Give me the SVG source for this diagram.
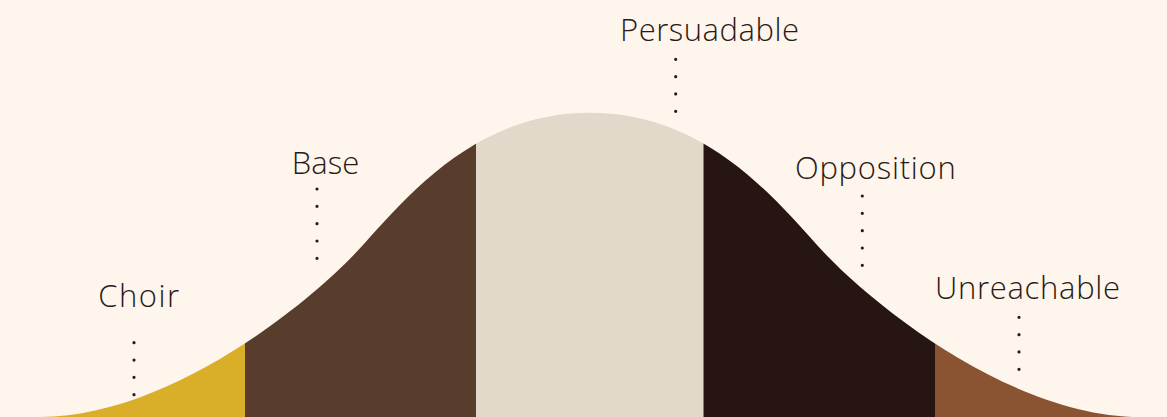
<svg xmlns="http://www.w3.org/2000/svg" width="1167" height="417" viewBox="0 0 1167 417">
  <style>
    .lbl { font-family: "Open Sans", "Liberation Sans", Arial, sans-serif; font-weight: 300; font-size: 31px; fill: #2A1A17; }
    .dots { stroke: #2A1A17; stroke-width: 3.2; stroke-linecap: round; stroke-dasharray: 0 17.33; fill: none; }
  </style>
  <defs>
    <clipPath id="bell">
      <path d="M 0 417 L 40 417 C 170 417, 313 301, 363 245 C 413 189, 480 112.7, 590 112.7 C 700 112.7, 767 189, 817 245 C 867 301, 1010 417, 1140 417 L 1167 417 L 1167 420 L 0 420 Z"/>
    </clipPath>
  </defs>
  <rect x="0" y="0" width="1167" height="417" fill="#FEF5EC"/>
  <g clip-path="url(#bell)">
    <g id="choir-seg"><rect x="0" y="100" width="245" height="320" fill="#D9AF29"/></g>
    <g id="base-seg"><rect x="245" y="100" width="231" height="320" fill="#593D2C"/></g>
    <g id="persuadable-seg"><rect x="476" y="100" width="227.5" height="320" fill="#E1D9C9"/></g>
    <g id="opposition-seg"><rect x="703.5" y="100" width="231.5" height="320" fill="#261513"/></g>
    <g id="unreachable-seg"><rect x="935" y="100" width="232" height="320" fill="#8A5332"/></g>
  </g>
  <g id="connectors">
    <line class="dots" x1="134" y1="342.7" x2="134" y2="394.7"/>
    <line class="dots" x1="317" y1="189" x2="317" y2="258.4"/>
    <line class="dots" x1="675.7" y1="59.3" x2="675.7" y2="111.3"/>
    <line class="dots" x1="862.3" y1="196" x2="862.3" y2="265.4"/>
    <line class="dots" x1="1019" y1="317.3" x2="1019" y2="369.3"/>
  </g>
  <g id="choir"><text class="lbl" x="98.3" y="307.3" textLength="80.7">Choir</text></g>
  <g id="base"><text class="lbl" x="291.7" y="174.3" textLength="67.6">Base</text></g>
  <g id="persuadable"><text class="lbl" x="620" y="40.7" textLength="179">Persuadable</text></g>
  <g id="opposition"><text class="lbl" x="795" y="179.3" textLength="160.7">Opposition</text></g>
  <g id="unreachable"><text class="lbl" x="935" y="299.3" textLength="185">Unreachable</text></g>
</svg>
